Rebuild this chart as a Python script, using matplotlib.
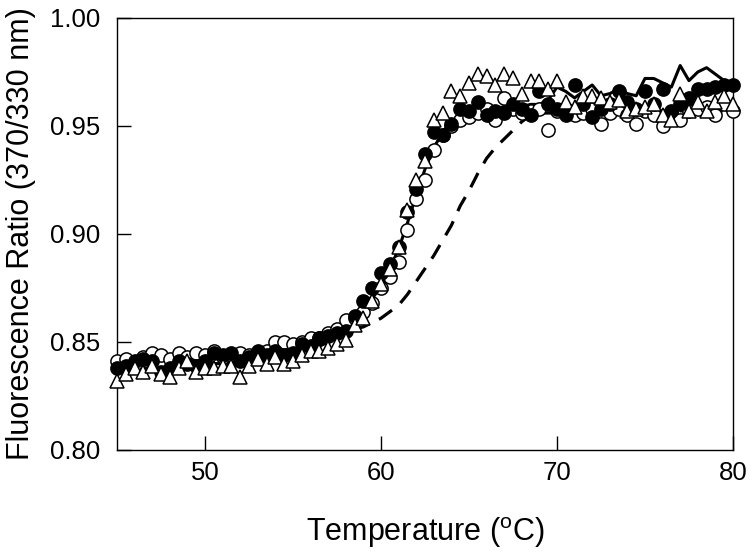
import numpy as np
import matplotlib
matplotlib.use("Agg")
import matplotlib.pyplot as plt

plt.rcParams['font.family'] = ['Liberation Sans', 'DejaVu Sans']
plt.rcParams['mathtext.fontset'] = 'custom'
plt.rcParams['mathtext.rm'] = 'Liberation Sans'

# Température (°C), pas de 0.5
temp = np.arange(45.0, 80.01, 0.5)

# Cercles ouverts
open_circ = [0.841, 0.842, 0.840, 0.843, 0.845, 0.844, 0.842, 0.845, 0.843, 0.845,
             0.844, 0.846, 0.843, 0.844, 0.845, 0.844, 0.845, 0.846, 0.850, 0.850,
             0.849, 0.850, 0.852, 0.852, 0.854, 0.856, 0.860, 0.861, 0.864, 0.868,
             0.875, 0.880, 0.887, 0.902, 0.916, 0.925, 0.939, 0.946, 0.950, 0.953,
             0.954, 0.956, 0.958, 0.953, 0.963, 0.958, 0.956, 0.957, 0.958, 0.948,
             0.957, 0.958, 0.955, 0.956, 0.958, 0.951, 0.956, 0.958, 0.955, 0.951,
             0.957, 0.955, 0.950, 0.956, 0.953, 0.957, 0.958, 0.959, 0.955, 0.960,
             0.957]

# Cercles pleins
filled_circ = [0.838, 0.839, 0.841, 0.842, 0.841, 0.836, 0.838, 0.841, 0.840, 0.839,
               0.841, 0.845, 0.844, 0.845, 0.841, 0.843, 0.846, 0.844, 0.846, 0.844,
               0.845, 0.849, 0.848, 0.852, 0.853, 0.854, 0.855, 0.862, 0.869, 0.875,
               0.882, 0.886, 0.894, 0.910, 0.921, 0.937, 0.947, 0.946, 0.951, 0.958,
               0.957, 0.961, 0.955, 0.957, 0.956, 0.960, 0.958, 0.955, 0.966, 0.960,
               0.958, 0.955, 0.969, 0.960, 0.954, 0.958, 0.960, 0.966, 0.961, 0.958,
               0.966, 0.960, 0.967, 0.957, 0.960, 0.963, 0.967, 0.967, 0.968, 0.969,
               0.969]

# Triangles ouverts
triangles = [0.832, 0.835, 0.838, 0.836, 0.839, 0.835, 0.834, 0.838, 0.841, 0.836,
             0.838, 0.838, 0.839, 0.839, 0.834, 0.839, 0.842, 0.840, 0.843, 0.840,
             0.841, 0.844, 0.846, 0.846, 0.847, 0.849, 0.851, 0.858, 0.861, 0.869,
             0.877, 0.884, 0.894, 0.911, 0.925, 0.934, 0.953, 0.956, 0.966, 0.964,
             0.970, 0.974, 0.973, 0.969, 0.974, 0.972, 0.965, 0.971, 0.971, 0.967,
             0.971, 0.961, 0.959, 0.964, 0.964, 0.963, 0.961, 0.962, 0.957, 0.958,
             0.959, 0.960, 0.955, 0.953, 0.965, 0.957, 0.961, 0.957, 0.961, 0.964,
             0.960]

# Trait plein
solid_line = [0.837, 0.837, 0.837, 0.838, 0.838, 0.838, 0.838, 0.839, 0.839, 0.839,
              0.839, 0.840, 0.840, 0.840, 0.841, 0.841, 0.842, 0.842, 0.843, 0.844,
              0.845, 0.846, 0.847, 0.848, 0.850, 0.852, 0.856, 0.860, 0.865, 0.870,
              0.876, 0.884, 0.893, 0.905, 0.918, 0.930, 0.940, 0.947, 0.952, 0.955,
              0.957, 0.958, 0.958, 0.958, 0.959, 0.959, 0.959, 0.960, 0.960, 0.962,
              0.968, 0.966, 0.963, 0.966, 0.969, 0.964, 0.965, 0.967, 0.965, 0.964,
              0.972, 0.972, 0.970, 0.968, 0.978, 0.971, 0.975, 0.977, 0.974, 0.971,
              0.969]

# Trait pointillé
dashed_line = [0.836, 0.836, 0.836, 0.837, 0.837, 0.837, 0.837, 0.838, 0.838, 0.838,
               0.838, 0.839, 0.839, 0.839, 0.840, 0.840, 0.841, 0.841, 0.842, 0.843,
               0.844, 0.845, 0.847, 0.849, 0.850, 0.852, 0.854, 0.856, 0.857, 0.859,
               0.861, 0.864, 0.867, 0.872, 0.878, 0.884, 0.890, 0.897, 0.904, 0.913,
               0.920, 0.928, 0.935, 0.940, 0.944, 0.948, 0.952, 0.955, 0.956, 0.956,
               0.956, 0.956, 0.956, 0.956, 0.956, 0.956, 0.957, 0.957, 0.957, 0.957,
               0.957, 0.957, 0.957, 0.957, 0.957, 0.957, 0.957, 0.957, 0.957, 0.957,
               0.957]

fig = plt.figure(figsize=(7.52, 5.52), dpi=100)
ax = fig.add_axes([0.1556, 0.1848, 0.8191, 0.7826])

ax.plot(temp, dashed_line, color='black', lw=2.3, ls=(0, (5, 3.5)), zorder=2)
ax.plot(temp, solid_line, color='black', lw=2.2, zorder=2)

ax.plot(temp, open_circ, 'o', ms=9.5, mfc='white', mec='black', mew=1.1, zorder=3, clip_on=False)
ax.plot(temp, filled_circ, 'o', ms=9.5, mfc='black', mec='black', mew=1.1, zorder=4, clip_on=False)
ax.plot(temp, triangles, '^', ms=10, mfc='white', mec='black', mew=1.1, zorder=5, clip_on=False)

ax.set_xlim(45, 80)
ax.set_ylim(0.80, 1.00)
ax.set_xticks([50, 60, 70, 80])
ax.set_yticks([0.80, 0.85, 0.90, 0.95, 1.00])
ax.set_yticklabels(['0.80', '0.85', '0.90', '0.95', '1.00'])
ax.tick_params(direction='in', length=10, width=1, labelsize=18.5)
ax.tick_params(axis='y', pad=12)
ax.tick_params(axis='x', pad=8)
for s in ax.spines.values():
    s.set_linewidth(1)

ax.set_xlabel(r'Temperature ($^\mathregular{o}$C)', fontsize=22, labelpad=22)
ax.set_ylabel('Fluorescence Ratio (370/330 nm)', fontsize=22, labelpad=10)

plt.savefig('out.png', dpi=100)
